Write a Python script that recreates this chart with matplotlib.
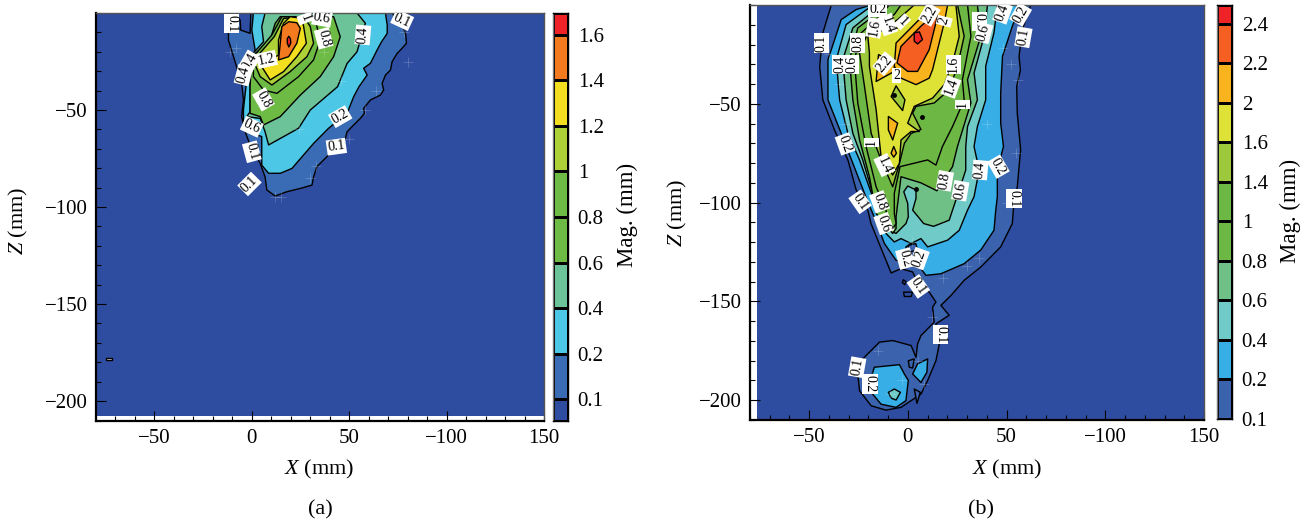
import matplotlib
matplotlib.use('Agg')
import matplotlib.pyplot as plt
from matplotlib.colors import ListedColormap
from matplotlib.ticker import MultipleLocator

plt.rcParams['font.family'] = 'Liberation Serif'
plt.rcParams['mathtext.fontset'] = 'custom'
plt.rcParams['mathtext.it'] = 'Liberation Serif:italic'
plt.rcParams['mathtext.rm'] = 'Liberation Serif'

# colour steps of both colour bars
colors_a = ['#2e4da0', '#3a6cb5', '#4cc8e6', '#6dc399', '#6dbb45', '#6dbb45', '#add136', '#f3df20', '#f47a20', '#ee2227']
ticks_a = ['0.1', '0.2', '0.4', '0.6', '0.8', '1', '1.2', '1.4', '1.6']
colors_b = ['#3a62ad', '#37aee6', '#6fcac8', '#6ec086', '#6db844', '#6db844', '#9dc83b', '#dfe236', '#f9b31d', '#f56022', '#ee2227']
ticks_b = ['0.1', '0.2', '0.4', '0.6', '0.8', '1', '1.4', '1.6', '2', '2.2', '2.4']

x_labels = ['\u221250', '0', '50', '\u2212100', '150']
x_ticks = [-50, 0, 50, 100, 150]
z_ticks = [-50, -100, -150, -200]
z_labels = ['\u221250', '\u2212100', '\u2212150', '\u2212200']

# panel (a) contours, outline of each level in (X, Z) mm
a_01 = [(72, 0), (78, -7.9), (79, -11.3), (79.4, -15.6), (76.3, -19.1), (74.6, -20.8), (72, -25.1), (71.2, -29.4),
        (68.6, -32), (66.9, -36.3), (67.7, -39.7), (66, -42.3), (60.9, -44.8), (57.4, -49.1), (57.8, -51.7),
        (55.7, -54.3), (52.3, -57.7), (48.9, -61.2), (48, -64.6), (42, -70.6), (33.4, -79.2), (31.7, -84.4),
        (30.9, -88.7), (24.9, -90.4), (18, -92.1), (12, -94.3), (7.7, -91.2), (6.8, -84.4), (4.3, -77.5), (-0.9, -68),
        (-3.4, -61.2), (-5.2, -53.4), (-4.3, -44.8), (-5.2, -36.3), (-9.4, -22.5), (-12, -14), (-12, -7), (-8.6, -1.9),
        (-6, -3.6), (-5.7, -8.8), (-0.9, -10.5), (-0.5, 0)]
a_02 = [(68.6, 0), (69.5, -6.2), (69.5, -10.5), (66.5, -15), (64.3, -19.1), (60.9, -25.9), (57.4, -28.5), (59.2, -32),
        (55, -38), (52.3, -43.1), (48.9, -51.7), (39.4, -59.4), (31.7, -67.2), (20.6, -80.1), (14.6, -82.6), (8.6, -82.6),
        (5.1, -78.4), (5.1, -63.7), (0.8, -62), (-4.3, -58.6), (-4.3, -50), (-3.4, -41.4), (-2.6, -34.5), (1.7, -19.1),
        (0, -8.8), (0.8, 0)]
a_04 = [(54, 0), (58.3, -5.3), (54, -20), (48.9, -26), (44, -38), (30, -50), (24, -59.4), (8.6, -68),
        (6.8, -61.2), (4.3, -54.3), (-2.6, -53.4), (-0.9, -50.9), (-0.9, -38.8), (-0.9, -22.5), (6, -14.8),
        (5.1, -7), (6.8, 0)]
a_06 = [(42, -1.9), (45.4, -12.2), (42, -22.5), (35.1, -32.8), (24.9, -42.3), (14.6, -53.4), (6, -57.7), (4.3, -53.4),
        (-0.9, -51.7), (-0.9, -38), (0, -22.5), (9.4, -14), (12, -5.3), (14.6, -1.9), (30, -1.9)]
a_08 = [(32.6, -3.6), (35.1, -14), (31.7, -24.2), (24, -32.8), (12.9, -41.4), (6, -39.7), (0.8, -32.8), (0.8, -22.5),
        (10.3, -11.3), (15.4, -1.9), (26, -1.9)]
a_10 = [(30, -7), (31.7, -15.6), (28.3, -22.5), (19.7, -30.2), (10.3, -37.1), (4.3, -32.8), (1.7, -26.8), (3.4, -21.6),
        (11.5, -12.2), (16.3, -2.8), (26.6, -1.9)]
a_12 = [(26.6, -7), (28, -15.6), (23.1, -22.5), (16.3, -30.2), (9.4, -34.5), (5.1, -27.7), (13.7, -21.6), (13.7, -13.9),
        (16.3, -5.3), (19.7, -1.9), (25.7, -2.8)]
a_14 = [(24.9, -7.9), (23.1, -15.6), (18.9, -22.5), (13.7, -24.2), (14.6, -15.6), (15.4, -7), (18.9, -4.5), (23.1, -5)]
a_16 = [(19, -12), (19.8, -13.2), (20, -15.5), (19, -17.5), (18.2, -15.5), (18.2, -13.2)]
a_speck = [(-75, -177.6), (-72, -177.6), (-72, -178.8), (-75, -178.8)]
a_contours = [(a_01, 1), (a_02, 2), (a_04, 3), (a_06, 4), (a_08, 5), (a_10, 6), (a_12, 7), (a_14, 8), (a_16, 9)]

# faint white grid crosses left around the contours
a_cross_x = [78, 80, 64, 58, 30, 33, 12, 15, 50, 37, -8, 24, 46, -11]
a_cross_z = [-10, -25, -40, -50, -85, -79, -95, -95, -65, -20, -18, -60, -35, -20]

a_text = [(-10.3, -5.3, '0.1', -90), (-1.2, -25.1, '0.4', 60), (-4.3, -32, '0.4', 75), (7.7, -23.9, '1.2', 12),
          (6, -44.5, '0.8', -60), (0, -58.6, '0.6', -25), (0, -71.5, '0.1', -75), (-1.2, -88.1, '0.1', 45),
          (43.4, -68.9, '0.1', 8), (45.4, -53.4, '0.2', 30), (57, -11.3, '0.4', 85), (36.9, -13, '0.8', -75),
          (36, -2.8, '0.6', -10), (27.4, -2.8, '1', -70), (77.2, -3.6, '0.1', -25)]

# panel (b) contours
b_01 = [(62.2, 0), (58, -12.4), (56.3, -26), (57, -33), (55.1, -41.2), (55.4, -54.7), (57.1, -73.3), (55.4, -92),
        (53.4, -103.8), (52.9, -110.6), (47, -122.4), (36.9, -132.6), (28.5, -139.3), (21.8, -147), (16.7, -152),
        (20.9, -157), (14.2, -161.3), (15.9, -171.5), (14.2, -180), (10, -190), (6.6, -196.9), (1.6, -200.2), (-3.5, -203.6),
        (-11.1, -205), (-18.6, -202.8), (-24.5, -195.2), (-25.4, -186.7), (-22.9, -179.1), (-14.4, -170.6),
        (-7.7, -169.8), (1.6, -172.3), (4.1, -178.3), (4.9, -171.5), (6.6, -167.3), (13.3, -160.5), (12.5, -152.9),
        (14.2, -150.3), (10.8, -145.3), (4.9, -140.2), (2.4, -135.1), (-3.5, -133.4), (-8.5, -135.6), (-11.1, -129.2),
        (-18.7, -110.6), (-20.3, -103.8), (-26.2, -93.6), (-30.4, -78.4), (-37.2, -63.2), (-43.1, -48), (-44.7, -31),
        (-43.1, -14.1), (-38.8, 0)]
b_02 = [(57.1, 0), (52.9, -10.7), (47.9, -26), (47, -44.6), (47, -59.8), (48.4, -71.6), (45.3, -83.5), (45.3, -97),
        (44.5, -103.8), (43.6, -114), (36.9, -124), (28.5, -130.9), (16.7, -136), (9.1, -136.8), (6.6, -133.4),
        (4, -122.4), (1.6, -120.7), (-1, -122.4), (-1, -130), (-6, -129.2), (-11.9, -120.7), (-16.1, -109.7),
        (-22, -95.3), (-27.9, -80.1), (-33.8, -64.9), (-40.5, -48), (-40.5, -27.7), (-33.8, -7.4), (-26.2, -2.3),
        (-18.6, 0)]
b_04 = [(45.3, 0), (43.6, -14.1), (39.4, -31), (39.4, -48), (35.2, -61.5), (33.5, -71.6), (36.1, -83.5), (33.5, -97),
        (30.2, -103.8), (26, -114), (20.1, -119), (10, -122.4), (6.6, -118.2), (1.6, -120.7), (-3.5, -118.2),
        (-6.9, -119.9), (-11.1, -115.6), (-13.6, -107), (-18.6, -95), (-24.5, -78.4), (-30.4, -64.9), (-34.6, -48),
        (-36.3, -27.7), (-31.3, -9.9), (-22, -3.1), (-17.8, 0)]
b_06 = [(40.3, 0), (38.6, -15.8), (33.5, -34.4), (35.2, -48), (30.2, -61.5), (29.3, -71.6), (29.3, -83.5), (26, -93.6),
        (22.6, -103.8), (20.9, -108.9), (13, -112), (8, -110.6), (2.4, -103.8), (4.1, -97.9), (4.1, -93.6),
        (-0.1, -91.6), (-2.1, -94.5), (-0.1, -100.4), (0.2, -107.2), (-1, -110.6), (-6, -115.6), (-9.4, -114),
        (-11.9, -110.6), (-15.3, -103.8), (-22.9, -78.4), (-27.9, -64.9), (-31.3, -48), (-33, -27.7), (-27.9, -11.6),
        (-19.5, -4.8), (-16.1, 0)]
b_08 = [(35.2, 0), (36.9, -15.8), (30.2, -37.8), (31.9, -49.6), (25.1, -71.6), (22.6, -81.8), (14.7, -94), (6.6, -90),
        (-3.5, -86.9), (-6, -107.2), (-6, -113.1), (-7.7, -115.6), (-11.1, -111.4), (-16.1, -105.5), (-19.5, -86.9),
        (-24.5, -68.3), (-27.9, -48), (-29.6, -27.7), (-25.4, -11.6), (-18.6, -6.5), (-13.6, 0)]
b_10 = [(30.2, 0), (31.9, -15.8), (27.6, -37.8), (28.5, -48), (22.6, -61.5), (17.5, -71.6), (14.2, -81), (10, -78.4),
        (-4, -81.8), (-6.9, -95.3), (-6.9, -105.5), (-6, -110.6), (-7.7, -113.1), (-10.2, -108.9), (-11.1, -103.8),
        (-16.1, -92), (-21.2, -71.6), (-25.4, -49.6), (-27.1, -27.7), (-23.7, -14.1), (-16.1, -7.4), (-9.4, 0)]
b_14 = [(25.1, 0), (28.5, -15.8), (25.1, -31), (20.9, -42.9), (13.3, -49.6), (4.1, -51.3), (2.4, -54.7), (6.6, -63),
        (1.6, -65), (-1.8, -70), (-4.3, -80.1), (-7.7, -92), (-13.6, -78.4), (-18.6, -65), (-22, -41.2), (-24.5, -24.3),
        (-20.3, -14.1), (-6.9, -4.8), (-3.5, 0)]
b_16 = [(24.3, 0), (26, -15.8), (22.6, -29.3), (18.4, -40.3), (12.5, -47.1), (3.2, -51.3), (-0.1, -59.8), (5.8, -64),
        (1.6, -64), (-3.5, -68.3), (-4.3, -80.1), (-7.7, -86), (-13.6, -76.7), (-16.1, -53), (-19.5, -31), (-19.5, -24.3),
        (-20.3, -15.8), (-13.6, -13.3), (-5.2, -7.4), (3.2, 0)]
b_20 = [(20.1, 0), (18.4, -9), (12.5, -32.7), (10.8, -37), (4.1, -40.3), (-3.5, -37), (-6.9, -31), (-6, -19.2),
        (3.2, -9.9), (9.1, -4), (13.3, 0)]
b_20_left = [(-14.9, -25.1), (-16.1, -38.7), (-6.9, -33.6), (-6.9, -29.3)]
b_20_mid = [(-9.9, -56.4), (-5.2, -59.8), (-7.7, -68.3), (-9.9, -63.2)]
b_20_low = [(-7.2, -71.6), (-5.8, -75), (-7.2, -77), (-8.5, -75)]
b_14_pocket = [(-6, -40.9), (-1.5, -48), (-2.7, -53.4), (-8.5, -46.3)]
b_22 = [(15, -5.7), (10.8, -22.6), (4.9, -33.6), (-0.1, -33.6), (-5.5, -29.3), (-3.5, -20.9), (6.6, -10.7), (14.2, -4)]
b_24 = [(3.2, -14.1), (5.8, -13.6), (7.4, -17.5), (4.9, -19.7), (3.2, -18.3)]
b_blob_02 = [(-17, -183.3), (-4.3, -182), (-1.8, -186.7), (0.2, -190), (-1, -200.2), (-6, -203.6), (-13.6, -202),
             (-18.6, -196), (-18.6, -188.4)]
b_blob_04 = [(-9.9, -196), (-6.9, -194.3), (-3.8, -196), (-6, -199.9), (-8.5, -198.9)]
b_blob_right = [(2.4, -186.7), (4.9, -181.6), (10, -179.1), (9.6, -185.9), (6.6, -191)]
b_hole_1 = [(0.2, -180), (3.2, -179.1), (2.4, -183.7), (0.7, -183.3)]
b_hole_2 = [(3.2, -194.3), (6.3, -196), (4.6, -201.6)]
b_hole_3 = [(-2.2, -145.3), (2.4, -145.3), (1.6, -147.5), (-1.8, -147.5)]
b_hole_4 = [(-2.3, -139), (-1, -140), (-1.6, -141.5), (-2.8, -140.5)]
b_hole_5 = [(0.2, -121.6), (4, -120.7), (4.9, -124), (0.7, -125)]
b_dots = [(-6.9, -45.4), (7.1, -56.8), (4.2, -93)]
b_contours = [(b_01, 0), (b_02, 1), (b_04, 2), (b_06, 3), (b_08, 4), (b_10, 5), (b_14, 6), (b_16, 7), (b_20, 8),
              (b_20_left, 8), (b_20_mid, 8), (b_20_low, 8), (b_14_pocket, 6), (b_22, 9), (b_24, 10),
              (b_blob_02, 1), (b_blob_04, 2), (b_blob_right, 1), (b_hole_1, 0), (b_hole_2, 0), (b_hole_5, 0)]
b_islands = [b_hole_3, b_hole_4]

b_cross_x = [48, 52, 56, 40, 30, 18, 12, -3, 8, 5, -15, -18, -9, -32, 55, 50, 36, -40, -35, 2]
b_cross_z = [-22, -30, -38, -60, -132, -138, -158, -190, -192, -180, -175, -188, -197, -60, -75, -100, -128, -25, -40, -120]

b_text = [(-43.9, -19.2, '0.1', 90), (-34.4, -30.2, '0.4', 90), (-28.5, -30.2, '0.6', 90), (-25.4, -19.2, '0.8', 90),
          (-17, -11.6, '1.6', 80), (-10.2, -9.9, '1.4', -70), (-2.7, -8.5, '1', -45), (10.8, -4.8, '2.2', 60),
          (18.4, -8.2, '2', 75), (-15.3, -2.3, '0.2', 0), (36.1, -8.2, '0.8', -90), (38.3, -14.1, '0.6', 75),
          (47.9, -4, '0.4', 70), (57.1, -4.8, '0.2', 60), (58.5, -16.3, '0.1', 80), (-11.9, -29.7, '2.2', 50),
          (-5.7, -35.8, '2', 0), (23.1, -30.2, '1.6', 90), (21.8, -41.5, '1.4', 70), (27.6, -50.2, '1', 90),
          (-18.6, -69.6, '1', 90), (-31.8, -70.3, '0.2', -70), (-11.9, -81, '1.4', -65), (18.7, -89, '0.8', 80),
          (26.5, -94, '0.6', 80), (36.6, -83.5, '0.4', 85), (45.8, -81.8, '0.2', -60), (53.7, -97.9, '0.1', -90),
          (-24.2, -99.6, '0.1', -55), (-14.4, -99.6, '0.8', -70), (-12.2, -110.6, '0.6', -70), (-1.5, -128.3, '0.2', -75),
          (5.8, -128.3, '0.2', 70), (5.3, -142.4, '0.1', -55), (16.7, -166.7, '0.1', -90), (-25.7, -183.3, '0.1', 80),
          (-19.2, -191.8, '0.2', -90)]

W, H = 1307, 523
fig = plt.figure(figsize=(W / 100, H / 100), dpi=100)


def box(left, right, top, bottom):
    return [left / W, 1 - bottom / H, (right - left) / W, (bottom - top) / H]


def draw_panel(ax, contours, labels, cross_x, cross_z, xlim, bg, bg_left, bg_bottom):
    ax.fill([bg_left, 150, 150, bg_left], [bg_bottom, bg_bottom, 0, 0], facecolor=bg, lw=0, zorder=0)
    for poly, c in contours:
        ax.fill([p[0] for p in poly], [p[1] for p in poly], facecolor=c, edgecolor='black', lw=1, zorder=2,
                joinstyle='round')
    ax.plot(cross_x, cross_z, '+', color='white', ms=7, mew=0.4, alpha=0.3, zorder=3)
    for x, z, s, rot in labels:
        ax.text(x, z, s, rotation=rot, fontsize=10, ha='center', va='center', zorder=4, clip_on=True,
                bbox=dict(facecolor='white', edgecolor='none', pad=0.8))
    ax.set_xlim(*xlim)
    ax.set_ylim(-210, 0)
    ax.set_xticks(x_ticks)
    ax.set_xticklabels(x_labels)
    ax.set_yticks(z_ticks)
    ax.set_yticklabels(z_labels)
    ax.xaxis.set_minor_locator(MultipleLocator(10))
    ax.yaxis.set_minor_locator(MultipleLocator(10))
    ax.tick_params(which='major', direction='in', length=7, width=0.8, labelsize=15, pad=6, top=False, right=False)
    ax.tick_params(which='minor', direction='in', length=3.5, width=0.8, top=False, right=False)
    for side in ['left', 'bottom']:
        ax.spines[side].set_linewidth(1.6)
    for side in ['top', 'right']:
        ax.spines[side].set_linewidth(1)
        ax.spines[side].set_color('#555555')


def draw_bar(cax, colors, labels, edges):
    cax.pcolormesh([0, 1], edges, [[i] for i in range(len(colors))],
                   cmap=ListedColormap(colors), edgecolors='black', linewidth=0.8)
    cax.set_ylim(edges[0], edges[-1])
    cax.set_xticks([])
    cax.yaxis.tick_right()
    cax.set_yticks(range(len(labels)))
    cax.set_yticklabels(labels)
    cax.tick_params(axis='y', length=0, labelsize=15, pad=7)
    for s in cax.spines.values():
        s.set_linewidth(1)
    cax.spines['left'].set_color('#777777')


ax_a = fig.add_axes(box(96, 544, 13, 420.5))
a_colored = [(p, colors_a[i]) for p, i in a_contours] + [(a_speck, '#ffffff')]
draw_panel(ax_a, a_colored, a_text, a_cross_x, a_cross_z, (-80, 150), colors_a[0], -80, -207.5)

ax_b = fig.add_axes(box(750, 1204, 5, 420))
b_colored = [(p, colors_b[i]) for p, i in b_contours] + [(p, colors_a[0]) for p in b_islands]
draw_panel(ax_b, b_colored, b_text, b_cross_x, b_cross_z, (-80, 150), colors_a[0], -76.4, -210)
ax_b.plot([p[0] for p in b_dots], [p[1] for p in b_dots], 'o', color='black', ms=2.5, zorder=3)

cax_a = fig.add_axes(box(553, 568, 13, 421))
draw_bar(cax_a, colors_a, ticks_a, [-0.48] + list(range(9)) + [8.48])

cax_b = fig.add_axes(box(1217, 1232, 5, 419))
draw_bar(cax_b, colors_b, ticks_b, [0] + list(range(1, 11)) + [10.48])


def label(px, py, s, rot=0, size=16):
    fig.text(px / W, 1 - py / H, s, rotation=rot, ha='center', va='center', fontsize=size)


label(319, 469, r'$\mathit{X}$ (mm)')
label(1007, 469, r'$\mathit{X}$ (mm)')
label(18, 221, r'$\mathit{Z}$ (mm)', 90)
label(677, 213, r'$\mathit{Z}$ (mm)', 90)
label(627, 215, 'Mag. (mm)', 90, 16.5)
label(1290, 211, 'Mag. (mm)', 90, 16.5)
label(320, 510, '(a)')
label(981, 510, '(b)')

fig.savefig('out.png', dpi=100)
